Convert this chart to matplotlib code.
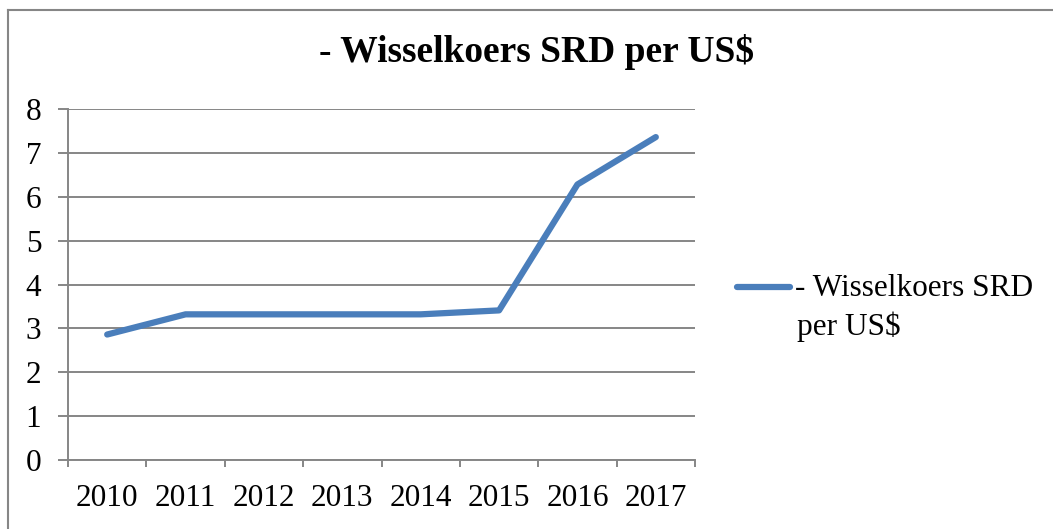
import matplotlib.pyplot as plt
from matplotlib.lines import Line2D

years = ["2010", "2011", "2012", "2013", "2014", "2015", "2016", "2017"]
koers = [2.86, 3.32, 3.32, 3.32, 3.32, 3.41, 6.28, 7.36]
yticks = [0, 1, 2, 3, 4, 5, 6, 7, 8]
label = "- Wisselkoers SRD per US$"

W, H = 1053, 529
blue = "#4a7ebb"
grey = "#868686"

plt.rcParams['font.family'] = ['Liberation Serif', 'DejaVu Serif']

fig = plt.figure(figsize=(W / 100, H / 100), dpi=100)
ax = fig.add_axes([68 / W, 1 - 460 / H, (695 - 68) / W, (460 - 109) / H])

xs = [i + 0.5 for i in range(len(years))]
ax.plot(xs, koers, color=blue, lw=4.5, solid_capstyle='round', solid_joinstyle='round')

ax.set_xlim(0, len(years))
ax.set_ylim(0, 8)
ax.set_yticks(yticks)
ax.set_yticklabels([str(v) for v in yticks], fontsize=22.5)
ax.set_xticks(range(len(years) + 1))
ax.set_xticklabels([])
ax.set_xticks(xs, minor=True)
ax.set_xticklabels(years, minor=True, fontsize=22.5)

ax.tick_params(axis='x', which='major', length=5, width=1.4, color=grey, direction='out')
ax.tick_params(axis='x', which='minor', length=0, pad=17)
ax.tick_params(axis='y', length=7.2, width=1.4, color=grey, pad=12)

ax.grid(axis='y', color=grey, lw=1.4)
ax.set_axisbelow(True)
for s in ['top', 'right']:
    ax.spines[s].set_visible(False)
for s in ['left', 'bottom']:
    ax.spines[s].set_color(grey)
    ax.spines[s].set_linewidth(1.4)

fig.text(537 / W, 1 - 52 / H, label, ha='center', va='center',
         fontsize=27, fontweight='bold')

# legend
fig.add_artist(Line2D([737 / W, 790 / W], [1 - 287 / H, 1 - 287 / H],
                      color=blue, lw=4.5, solid_capstyle='round'))
fig.text(795 / W, 1 - 289 / H, "- Wisselkoers SRD", ha='left', va='center', fontsize=22.5)
fig.text(797 / W, 1 - 327 / H, "per US$", ha='left', va='center', fontsize=22.5)

# chart frame
fig.add_artist(Line2D([8 / W, 8 / W], [0, 1 - 10 / H], color=grey, lw=1.5))
fig.add_artist(Line2D([8 / W, 1], [1 - 10 / H, 1 - 10 / H], color=grey, lw=1.5))

fig.savefig("out.png", dpi=100)
